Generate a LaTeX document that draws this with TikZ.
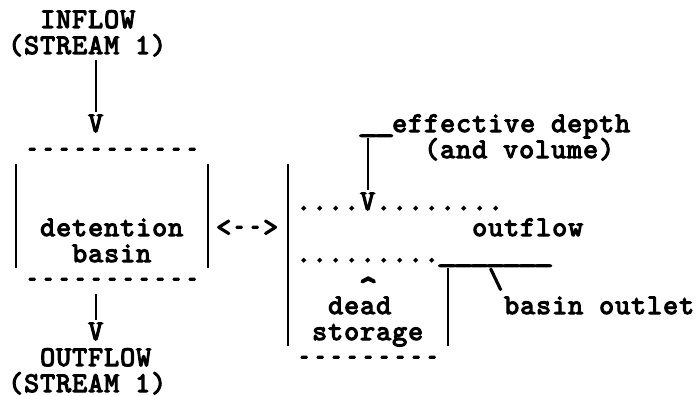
\documentclass[tikz,border=0pt]{standalone}
\usepackage{fontspec}
\usetikzlibrary{positioning}

\newfontfamily\asciiface{lmmono10-regular.otf}[FakeBold=4, LetterSpace=3.64]
\newcommand{\asciifont}{\asciiface\fontsize{28.5}{26}\selectfont}
\newcommand{\hy}{\makebox[16pt]{\scalebox{0.55}[1]{-}}}
\newcommand{\us}{\makebox[16pt]{\scalebox{1.4}[1]{\_}}}
\newcommand{\dashrun}[1]{\foreach \i in {1,...,#1}{\hy}}

\begin{document}
\begin{tikzpicture}[x=16pt,y=-26pt]
\tikzset{ascii/.style = {inner sep=0pt, anchor=base west, font=\asciifont},
	bar/.style = {line width=1.5pt, line cap=butt}}
\useasboundingbox (0,0) rectangle (43.5,15.2308);

% left column: basin and its stream
\node[ascii] (INFLOW) at (2.5,1.0769) {INFLOW};
\node[ascii] (STREAMIN) at (0.5,2.0769) {(STREAM 1)};
\node[ascii] (VIN) at (5.5,5.0769) {V};
\node[ascii] (TOPDASH) at (1.5,6.0769) {\dashrun{11}};
\node[ascii] (DET) at (2.5,9.0769) {detention};
\node[ascii] (BASIN) at (4.5,10.0769) {basin};
\node[ascii] (BOTDASH) at (1.5,11.0769) {\dashrun{11}};
\node[ascii] (VOUT) at (5.5,13.0769) {V};
\node[ascii] (OUTFLOW) at (2.5,14.0769) {OUTFLOW};
\node[ascii] (STREAMOUT) at (0.5,15.0769) {(STREAM 1)};

\node[ascii] (LINK) at (13.5,9.0769) {<\hy\hy>};

% right column: storage section
\node[ascii] (EFF) at (22.5,5.0769) {\us\us effective depth};
\node[ascii] (VOL) at (26.5,6.0769) {(and volume)};
\node[ascii] (LEVEL) at (18.5,8.0769) {....V........};
\node[ascii] (OUTLBL) at (29.5,9.0769) {outflow};
\node[ascii] (DEADLVL) at (18.5,10.0769) {.........\us\us\us\us\us\us\us};
\node[ascii, yshift=-14pt] (CARET) at (22.5,11.0769) {\makebox[16pt]{\scalebox{1.25}[1.4]{\textasciicircum}}};
\node[ascii] (SLASH) at (30.5,11.0769) {\textbackslash};
\node[ascii] (DEAD) at (20.5,12.0769) {dead};
\node[ascii] (OUTLET) at (31.5,12.0769) {basin outlet};
\node[ascii] (STORAGE) at (19.5,13.0769) {storage};
\node[ascii] (STOREDASH) at (18.5,14.0769) {\dashrun{9}};

% the | strokes: column / first row / last row
\foreach \c/\a/\b in {5/3/4, 0/7/10, 12/7/10, 17/7/13, 22/6/7, 27/11/13, 5/12/12}
	\draw[bar] (\c+1,\a-0.6923) -- (\c+1,\b+0.3077);

\end{tikzpicture}
\end{document}
